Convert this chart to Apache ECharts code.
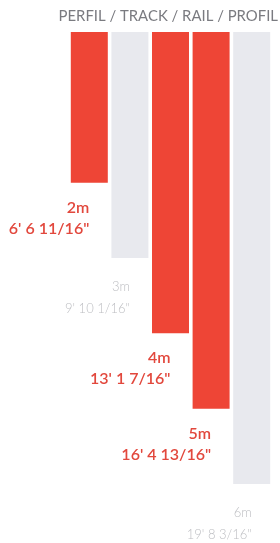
<!DOCTYPE html>
<html>
<head>
<meta charset="utf-8">
<script src="https://cdn.jsdelivr.net/npm/echarts@6/dist/echarts.min.js"></script>
<style>
  html, body { margin: 0; padding: 0; background: #fff; }
  #main { width: 280px; height: 543px; }
</style>
</head>
<body>
<div id="main"></div>
<script>
// longueurs disponibles
var lengths = ['2m', '3m', '4m', '5m', '6m'];
var meters = [2, 3, 4, 5, 6];
var imperial = ['6\' 6 11/16"', '9\' 10 1/16"', '13\' 1 7/16"', '16\' 4 13/16"', '19\' 8 3/16"'];
var stock = [true, false, true, true, false];   // rouge = en stock

var RED = '#ee4536';
var GREY = '#e8e9ee';

var myChart = echarts.init(document.getElementById('main'));

var data = meters.map(function (v, i) {
    var on = stock[i];
    var txt = {
        color: on ? '#e2483d' : '#bdbec2',
        fontSize: on ? 16 : 13,
        fontWeight: on ? 600 : 300,
        fontFamily: 'Lato',
        align: 'right'
    };
    return {
        value: v,
        itemStyle: { color: on ? RED : GREY },
        label: {
            distance: on ? 15 : 18,
            formatter: '{m|' + lengths[i] + '}\n{ft|' + imperial[i] + '}',
            rich: {
                m: Object.assign({ lineHeight: on ? 20 : 22 }, txt),
                ft: Object.assign({ lineHeight: 22 }, txt)
            }
        }
    };
});

var option = {
    animation: false,
    title: {
        text: 'PERFIL / TRACK / RAIL / PROFIL',
        right: -3,
        top: 4,
        textStyle: {
            color: '#7a7b80',
            fontSize: 14.9,
            fontWeight: 'normal',
            fontFamily: 'Lato'
        }
    },
    grid: { left: 69, right: 8, top: 32, bottom: 59 },
    xAxis: {
        type: 'category',
        data: lengths,
        show: false
    },
    yAxis: {
        type: 'value',
        inverse: true,
        min: 0,
        max: 6,
        show: false
    },
    series: [{
        type: 'bar',
        barWidth: 37,
        data: data,
        label: {
            show: true,
            position: 'bottom',
            align: 'right'
        }
    }]
};

myChart.setOption(option);
</script>
</body>
</html>
